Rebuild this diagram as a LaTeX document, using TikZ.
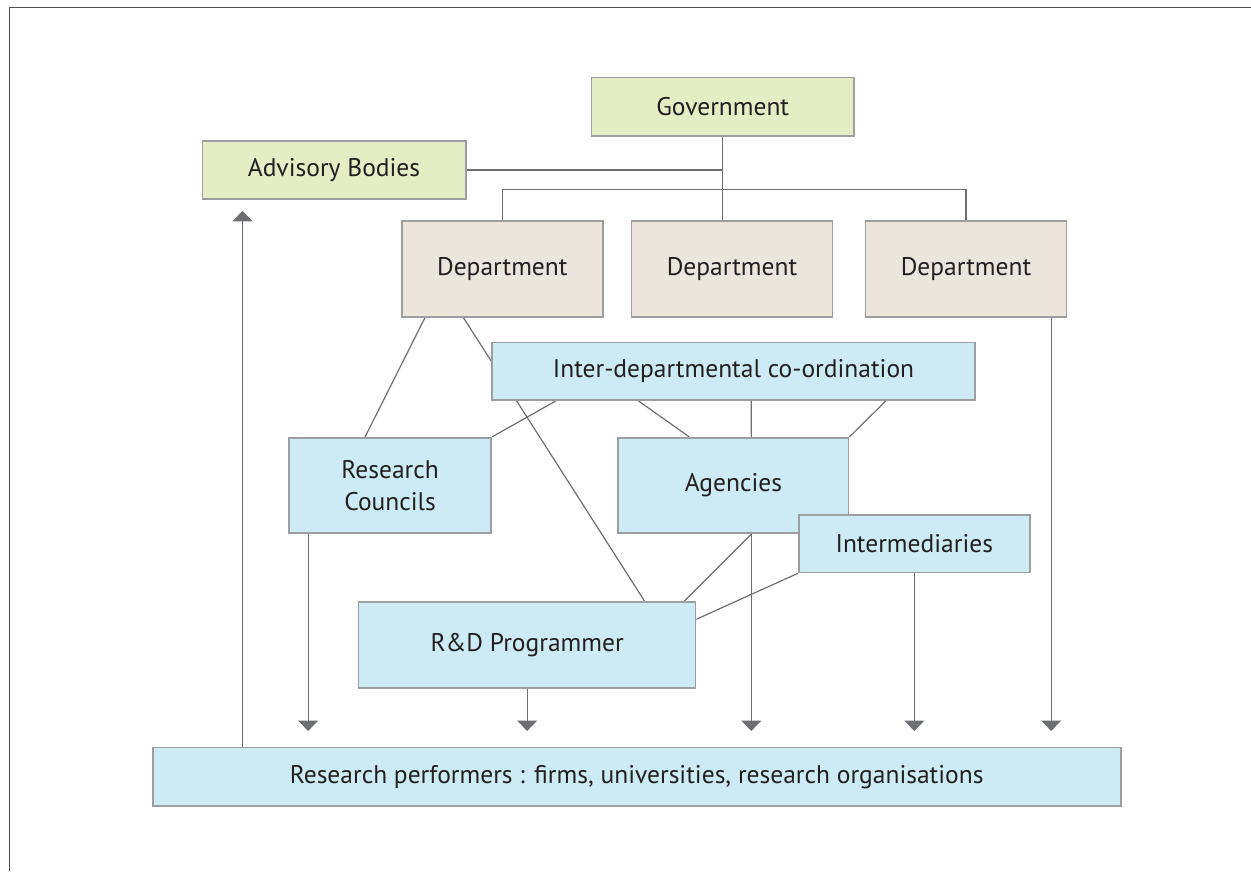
\documentclass[tikz,border=0pt]{standalone}
\usepackage{fontspec}
\setmainfont{PT Sans}
\usetikzlibrary{arrows.meta,backgrounds,calc}

\definecolor{govgreen}{HTML}{E4EDC4}
\definecolor{deptbeige}{HTML}{ECE5DB}
\definecolor{orgblue}{HTML}{CDEBF5}
\definecolor{boxgray}{HTML}{9C9EA1}
\definecolor{linegray}{HTML}{6D6E71}
\definecolor{framegray}{HTML}{4D4D4F}
\definecolor{textdark}{HTML}{231F20}

\begin{document}
\begin{tikzpicture}[x=1pt,y=-1pt,
  box/.style={draw=boxgray,line width=1.7pt,text=textdark,inner sep=0pt,
    align=center,font=\fontsize{25.5}{32}\selectfont},
  gbox/.style={box,fill=govgreen},
  dbox/.style={box,fill=deptbeige,minimum width=201pt,minimum height=95.7pt},
  obox/.style={box,fill=orgblue},
  link/.style={draw=linegray,line width=1.2pt},
  feed/.style={link,-{Triangle[width=20pt,length=10.5pt]},shorten >=15.5pt}]

  \useasboundingbox (0,0) rectangle (1251,871);
  % frame
  \draw[framegray,line width=1.5pt] (9.3,871) -- (9.3,7.3) -- (1251,7.3);

  \coordinate (bar) at (0,189.3);

  \node[gbox,minimum width=262.7pt,minimum height=58.7pt] (gov) at (722.7,106.7) {Government};
  \node[gbox,minimum width=263.3pt,minimum height=58.6pt] (adv) at (334,170) {Advisory Bodies};

  \node[dbox] (dept1) at (502.3,268.8) {Department};
  \node[dbox] (dept2) at (732,268.8) {Department};
  \node[dbox] (dept3) at (966,268.8) {Department};

  \node[obox,minimum width=483.4pt,minimum height=57.5pt] (inter) at (733.5,371.2) {Inter-departmental co-ordination};
  \node[obox,minimum width=202.3pt,minimum height=95.6pt] (rc) at (390.1,485.5) {Research\\Councils};
  \node[obox,minimum width=230.4pt,minimum height=95.6pt] (agency) at (733.4,485.5) {Agencies};
  \node[obox,minimum width=231.3pt,minimum height=57.8pt] (intermed) at (914.3,543.6) {Intermediaries};
  \node[obox,minimum width=337pt,minimum height=85.5pt] (rnd) at (527.1,645) {R\&D Programmer};
  \node[obox,minimum width=968pt,minimum height=58.7pt] (perf) at (636.7,776.7)
    {Research performers : firms, universities, research organisations};

  \coordinate (rcout) at ($(rc.south west)+(20,0)$);
  \coordinate (agout) at ($(agency.south west)+(134,0)$);
  \coordinate (d3out) at ($(dept3.south west)+(186.5,0)$);
  \coordinate (advin) at ($(adv.south west)+(41,0)$);

  \begin{scope}[on background layer]
    % government tree
    \draw[link] (gov.south) -- (gov.south |- dept2.north);
    \draw[link] (adv.east) -- (adv.east -| gov.south);
    \draw[link] (dept1.north) -- (dept1.north |- bar) -| (dept3.north);

    % departments and co-ordination
    \draw[link] ($(dept1.south west)+(24.1,0)$) -- ($(rc.north west)+(77,0)$);
    \draw[link] ($(dept1.south west)+(62.4,0)$) -- ($(rnd.north west)+(287,0)$);
    \draw[link] ($(inter.south west)+(65.1,0)$) -- (rc.north east);
    \draw[link] ($(inter.south west)+(147.4,0)$) -- ($(agency.north west)+(71.8,0)$);
    \draw[link] ($(inter.south west)+(260.3,0)$) -- ($(agency.north west)+(134,0)$);
    \draw[link] ($(inter.south west)+(395,0)$) -- (agency.north east);
    \draw[link] (agout) -- ($(rnd.north west)+(326.3,0)$);
    \draw[link] (intermed.south west) -- ($(rnd.north east)+(0,17.8)$);

    % funding to performers
    \draw[feed] (rcout) -- (rcout |- perf.north);
    \draw[feed] (rnd.south) -- (rnd.south |- perf.north);
    \draw[feed] (agout) -- (agout |- perf.north);
    \draw[feed] (intermed.south) -- (intermed.south |- perf.north);
    \draw[feed] (d3out) -- (d3out |- perf.north);
    \draw[feed,shorten >=10.7pt] (advin |- perf.north) -- (advin);
  \end{scope}
\end{tikzpicture}
\end{document}
